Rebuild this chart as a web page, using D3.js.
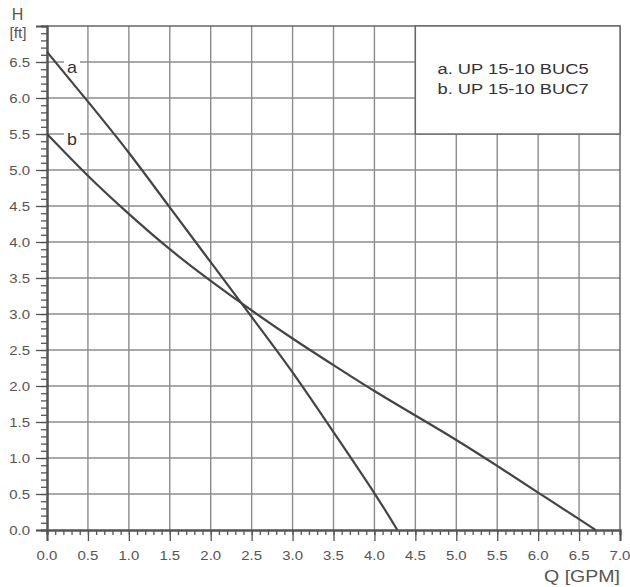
<!DOCTYPE html>
<html>
<head>
<meta charset="utf-8">
<script src="https://cdn.jsdelivr.net/npm/d3@7"></script>
<style>
  body { margin: 0; background: #fff; }
  text { font-family: "Liberation Sans", Arial, sans-serif; fill: #555; }
</style>
</head>
<body>
<svg id="chart" width="630" height="587"></svg>
<script>
// pump curves
var qA = [0, 0.5, 1.0, 1.5, 2.0, 2.5, 3.0, 3.5, 4.0, 4.28];
var hA = [6.64, 5.95, 5.24, 4.48, 3.72, 2.96, 2.19, 1.36, 0.51, 0];
var qB = [0, 0.5, 1.0, 1.5, 2.0, 2.5, 3.0, 3.5, 4.0, 4.5, 5.0, 5.5, 6.0, 6.5, 6.7];
var hB = [5.5, 4.92, 4.39, 3.9, 3.46, 3.05, 2.66, 2.29, 1.93, 1.59, 1.25, 0.89, 0.52, 0.15, 0];
var curveLabels = ["a", "b"];
var legendLines = ["a. UP 15-10 BUC5", "b. UP 15-10 BUC7"];
var xTicks = d3.range(0, 7.01, 0.5);
var yTicks = d3.range(0, 6.51, 0.5);

var svg = d3.select("#chart");
var pLeft = 47, pRight = 620, pTop = 26, pBottom = 530;

var x = d3.scaleLinear().domain([0, 7]).range([pLeft, pRight]);
var y = d3.scaleLinear().domain([0, 7]).range([pBottom, pTop]);

// the source picture is stretched sideways a little, so text gets a scaleX
function label(g, px, py, str, size, anchor, sx) {
  return g.append("text")
    .attr("transform", "translate(" + px + "," + py + ") scale(" + (sx || 1.15) + ",1)")
    .attr("text-anchor", anchor || "start")
    .style("font-size", size + "px")
    .text(str);
}

// grid
var grid = svg.append("g");
grid.selectAll(".vg").data(xTicks.slice(1, -1)).enter().append("line")
  .attr("x1", d => x(d)).attr("x2", d => x(d))
  .attr("y1", pTop).attr("y2", pBottom)
  .attr("stroke", "#8c8c8c").attr("stroke-width", 1.4);
grid.selectAll(".hg").data(yTicks.slice(1)).enter().append("line")
  .attr("x1", pLeft).attr("x2", pRight)
  .attr("y1", d => y(d)).attr("y2", d => y(d))
  .attr("stroke", "#8c8c8c").attr("stroke-width", 1.4);

// border on top and right
svg.append("path")
  .attr("d", "M" + pLeft + "," + pTop + "H" + pRight + "V" + pBottom)
  .attr("fill", "none").attr("stroke", "#666").attr("stroke-width", 1.4);

// axes with minor ticks
var xMinor = d3.axisBottom(x).tickValues(d3.range(0, 7.01, 0.1)).tickSize(5).tickFormat("");
var xMajor = d3.axisBottom(x).tickValues(xTicks).tickSize(11).tickFormat("");
var yMinor = d3.axisLeft(y).tickValues(d3.range(0, 7.01, 0.1)).tickSize(6).tickFormat("");
var yMajor = d3.axisLeft(y).tickValues(yTicks).tickSize(11).tickFormat("");

[xMinor, xMajor].forEach(function (ax) {
  svg.append("g").attr("transform", "translate(0," + pBottom + ")").call(ax)
    .call(g => g.selectAll("line,path").attr("stroke", "#555").attr("stroke-width", 1.3));
});
[yMinor, yMajor].forEach(function (ax) {
  svg.append("g").attr("transform", "translate(" + pLeft + ",0)").call(ax)
    .call(g => g.selectAll("line,path").attr("stroke", "#555").attr("stroke-width", 1.3));
});
svg.selectAll(".domain").attr("stroke-width", 2);

// tick labels
var lab = svg.append("g");
xTicks.forEach(function (t) { label(lab, x(t), 560, t.toFixed(1), 13, "middle"); });
yTicks.forEach(function (t) { label(lab, 30, y(t) + 5, t.toFixed(1), 13, "end"); });
label(lab, 17.5, 20, "H", 16, "middle", 1);
label(lab, 18, 38, "[ft]", 14, "middle", 1.1);
label(lab, pRight, 582, "Q [GPM]", 17, "end", 1.15);

// curves
var line = d3.line().curve(d3.curveNatural).x(d => x(d[0])).y(d => y(d[1]));
svg.append("path").datum(d3.zip(qA, hA)).attr("d", line)
  .attr("fill", "none").attr("stroke", "#444").attr("stroke-width", 2.2);
svg.append("path").datum(d3.zip(qB, hB)).attr("d", line)
  .attr("fill", "none").attr("stroke", "#444").attr("stroke-width", 2.2);

// curve tags sitting on the grid lines
[6.5, 5.5].forEach(function (h, i) {
  svg.append("rect").attr("x", 64).attr("y", y(h) - 3).attr("width", 16).attr("height", 6).attr("fill", "#fff");
  label(svg, 72, y(h) + 11, curveLabels[i], 17, "middle", 1.05).style("fill", "#333");
});

// legend box
svg.append("rect")
  .attr("x", x(4.5)).attr("y", pTop)
  .attr("width", pRight - x(4.5)).attr("height", y(5.5) - pTop)
  .attr("fill", "#fff").attr("stroke", "#666").attr("stroke-width", 1.4);
legendLines.forEach(function (s, i) {
  label(svg, 437.5, 74 + i * 19.5, s, 15, "start", 1.22).style("fill", "#333");
});
</script>
</body>
</html>
